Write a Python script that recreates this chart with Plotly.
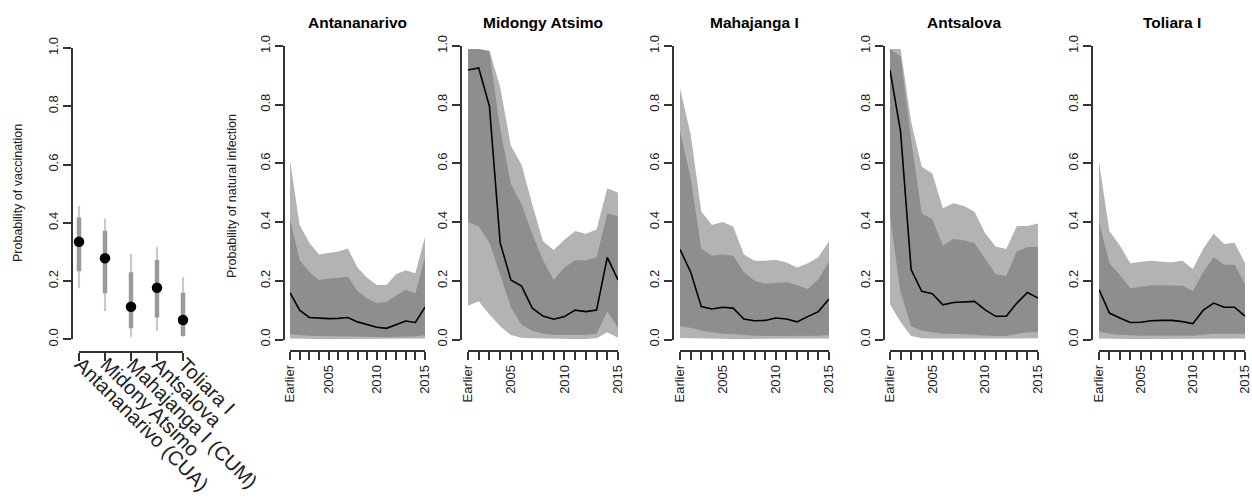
import plotly.graph_objects as go

# ---------------- data ----------------
vacc_districts = ["Antananarivo (CUA)", "Midony Atsimo", "Mahajanga I (CUM)", "Antsalova", "Toliara I"]
vacc_mean = [0.335, 0.278, 0.112, 0.177, 0.066]
vacc_lo95 = [0.175, 0.097, 0.009, 0.028, 0.009]
vacc_hi95 = [0.458, 0.415, 0.293, 0.316, 0.213]
vacc_lo50 = [0.234, 0.158, 0.038, 0.075, 0.011]
vacc_hi50 = [0.418, 0.373, 0.230, 0.272, 0.160]

years = ["Earlier", "2002", "2003", "2004", "2005", "2006", "2007", "2008",
         "2009", "2010", "2011", "2012", "2013", "2014", "2015"]
year_labels = ["Earlier", "", "", "", "2005", "", "", "", "", "2010", "", "", "", "", "2015"]

panel_names = ["Antananarivo", "Midongy Atsimo", "Mahajanga I", "Antsalova", "Toliara I"]

antan_med = [0.160, 0.100, 0.075, 0.072, 0.071, 0.072, 0.075, 0.060, 0.050, 0.042, 0.038, 0.050, 0.063, 0.058, 0.110]
antan_u95 = [0.610, 0.390, 0.330, 0.290, 0.295, 0.300, 0.310, 0.245, 0.210, 0.186, 0.186, 0.222, 0.236, 0.226, 0.350]
antan_u50 = [0.410, 0.270, 0.230, 0.203, 0.207, 0.210, 0.214, 0.165, 0.140, 0.124, 0.128, 0.150, 0.169, 0.158, 0.280]
antan_l50 = [0.018, 0.015, 0.013, 0.012, 0.012, 0.012, 0.012, 0.010, 0.009, 0.008, 0.008, 0.009, 0.010, 0.010, 0.015]
antan_l95 = [0.003, 0.002, 0.002, 0.002, 0.002, 0.002, 0.002, 0.002, 0.002, 0.002, 0.002, 0.002, 0.002, 0.002, 0.003]

midon_med = [0.918, 0.925, 0.795, 0.330, 0.203, 0.182, 0.107, 0.080, 0.069, 0.078, 0.100, 0.095, 0.100, 0.280, 0.203]
midon_u95 = [0.990, 0.990, 0.985, 0.860, 0.660, 0.595, 0.460, 0.335, 0.305, 0.340, 0.370, 0.360, 0.375, 0.515, 0.500]
midon_u50 = [0.990, 0.990, 0.980, 0.720, 0.530, 0.460, 0.360, 0.270, 0.203, 0.245, 0.270, 0.270, 0.280, 0.430, 0.420]
midon_l50 = [0.400, 0.385, 0.330, 0.220, 0.110, 0.050, 0.030, 0.020, 0.015, 0.015, 0.015, 0.015, 0.020, 0.095, 0.040]
midon_l95 = [0.115, 0.130, 0.085, 0.045, 0.015, 0.006, 0.004, 0.003, 0.002, 0.002, 0.002, 0.002, 0.004, 0.025, 0.006]

mahaj_med = [0.307, 0.230, 0.112, 0.104, 0.110, 0.107, 0.070, 0.064, 0.065, 0.073, 0.070, 0.060, 0.078, 0.095, 0.138]
mahaj_u95 = [0.856, 0.700, 0.436, 0.390, 0.400, 0.385, 0.290, 0.268, 0.268, 0.272, 0.262, 0.245, 0.260, 0.280, 0.335]
mahaj_u50 = [0.710, 0.550, 0.310, 0.285, 0.290, 0.285, 0.230, 0.200, 0.190, 0.192, 0.195, 0.185, 0.172, 0.205, 0.265]
mahaj_l50 = [0.045, 0.040, 0.030, 0.025, 0.020, 0.018, 0.015, 0.013, 0.012, 0.012, 0.012, 0.012, 0.012, 0.013, 0.015]
mahaj_l95 = [0.005, 0.004, 0.003, 0.003, 0.002, 0.002, 0.002, 0.002, 0.002, 0.002, 0.002, 0.002, 0.002, 0.002, 0.003]

antsa_med = [0.918, 0.708, 0.238, 0.164, 0.156, 0.118, 0.126, 0.128, 0.130, 0.101, 0.079, 0.079, 0.124, 0.160, 0.141]
antsa_u95 = [0.990, 0.990, 0.742, 0.589, 0.566, 0.447, 0.464, 0.455, 0.435, 0.362, 0.317, 0.308, 0.387, 0.387, 0.395]
antsa_u50 = [0.990, 0.965, 0.680, 0.430, 0.410, 0.320, 0.342, 0.338, 0.328, 0.275, 0.222, 0.216, 0.300, 0.315, 0.315]
antsa_l50 = [0.420, 0.160, 0.045, 0.030, 0.025, 0.020, 0.020, 0.018, 0.016, 0.013, 0.012, 0.012, 0.018, 0.025, 0.025]
antsa_l95 = [0.120, 0.060, 0.012, 0.004, 0.003, 0.003, 0.003, 0.002, 0.002, 0.002, 0.002, 0.002, 0.003, 0.004, 0.004]

tolia_med = [0.170, 0.090, 0.073, 0.058, 0.059, 0.064, 0.065, 0.065, 0.061, 0.054, 0.100, 0.124, 0.110, 0.110, 0.080]
tolia_u95 = [0.605, 0.370, 0.320, 0.260, 0.265, 0.268, 0.265, 0.263, 0.268, 0.240, 0.310, 0.360, 0.325, 0.330, 0.260]
tolia_u50 = [0.400, 0.260, 0.220, 0.175, 0.180, 0.185, 0.185, 0.183, 0.183, 0.165, 0.230, 0.280, 0.255, 0.255, 0.190]
tolia_l50 = [0.027, 0.020, 0.016, 0.014, 0.013, 0.013, 0.013, 0.013, 0.013, 0.013, 0.016, 0.020, 0.020, 0.020, 0.020]
tolia_l95 = [0.003, 0.002, 0.002, 0.002, 0.002, 0.002, 0.002, 0.002, 0.002, 0.002, 0.002, 0.002, 0.002, 0.002, 0.003]

panels = [
    (antan_med, antan_u95, antan_u50, antan_l50, antan_l95),
    (midon_med, midon_u95, midon_u50, midon_l50, midon_l95),
    (mahaj_med, mahaj_u95, mahaj_u50, mahaj_l50, mahaj_l95),
    (antsa_med, antsa_u95, antsa_u50, antsa_l50, antsa_l95),
    (tolia_med, tolia_u95, tolia_u50, tolia_l50, tolia_l95),
]

# ---------------- layout geometry (pixels) ----------------
W, H = 1252, 502
def px(x):
    return x / W
def py(y):
    return 1 - y / H

FONT = "Liberation Sans, Arial, Helvetica, sans-serif"
AX_COL = "#333333"
LIGHT = "#b3b3b3"
DARK = "#8e8e8e"

panel_x0 = [290, 468, 680, 890, 1099]
panel_x1 = [425, 618, 829, 1038, 1245]
panel_axis = [284, 461, 673, 884, 1092]
p_y0, p_y1 = 339.5, 46.0
p_xaxis_y = 351

v_c0, v_c1 = 79, 183
v_step = (v_c1 - v_c0) / 4
v_pad = 0.25
v_y0, v_y1 = 339.3, 48.0
v_axis_x = 72
v_xaxis_y = 352

fig = go.Figure()

# ---- vaccination panel ----
for d, a, b in zip(vacc_districts, vacc_lo95, vacc_hi95):
    fig.add_trace(go.Scatter(x=[d, d], y=[a, b], mode="lines",
                             line=dict(color="#c9c9c9", width=2.2),
                             xaxis="x", yaxis="y", hoverinfo="skip", showlegend=False))
for d, a, b in zip(vacc_districts, vacc_lo50, vacc_hi50):
    fig.add_trace(go.Scatter(x=[d, d], y=[a, b], mode="lines",
                             line=dict(color="#9a9a9a", width=4.5),
                             xaxis="x", yaxis="y", hoverinfo="skip", showlegend=False))
fig.add_trace(go.Scatter(x=vacc_districts, y=vacc_mean, mode="markers",
                         marker=dict(color="black", size=10.5), cliponaxis=False,
                         xaxis="x7", yaxis="y", showlegend=False))

axis_common = dict(showgrid=False, zeroline=False, showline=True, linecolor=AX_COL,
                   linewidth=1.5, ticks="outside", tickcolor=AX_COL, tickwidth=1.5,
                   ticklen=8, automargin=False,
                   tickfont=dict(family=FONT, size=13, color="#222"))

layout = dict(
    width=W, height=H, margin=dict(l=0, r=0, t=0, b=0, autoexpand=False),
    paper_bgcolor="white", plot_bgcolor="rgba(0,0,0,0)", showlegend=False,
    font=dict(family=FONT, color="#222"),
)

layout["xaxis"] = dict(domain=[px(v_c0 - v_pad * v_step), px(v_c1 + v_pad * v_step)],
                       type="category", categoryorder="array", categoryarray=vacc_districts,
                       range=[-v_pad, 4 + v_pad], showgrid=False, zeroline=False,
                       showline=False, showticklabels=False, ticks="", anchor="y",
                       automargin=False)
layout["xaxis7"] = dict(axis_common, domain=[px(v_c0), px(v_c1)], type="category",
                        categoryorder="array", categoryarray=vacc_districts,
                        range=[0, 4], anchor="free", position=py(v_xaxis_y),
                        showticklabels=False)
layout["yaxis"] = dict(axis_common, domain=[py(v_y0), py(v_y1)], range=[0, 1],
                       tickvals=[0, 0.2, 0.4, 0.6, 0.8, 1.0], tickformat=".1f",
                       tickangle=-90, anchor="free", position=px(v_axis_x))

# ---- natural infection panels ----
for i, (med, u95, u50, l50, l95) in enumerate(panels):
    k = i + 2
    xa, ya = f"x{k}", f"y{k}"
    fig.add_trace(go.Scatter(x=years, y=l95, mode="lines", line=dict(width=0, color=LIGHT),
                             xaxis=xa, yaxis=ya, hoverinfo="skip", showlegend=False))
    fig.add_trace(go.Scatter(x=years, y=u95, mode="lines", line=dict(width=0, color=LIGHT),
                             fill="tonexty", fillcolor=LIGHT,
                             xaxis=xa, yaxis=ya, hoverinfo="skip", showlegend=False))
    fig.add_trace(go.Scatter(x=years, y=l50, mode="lines", line=dict(width=0, color=DARK),
                             xaxis=xa, yaxis=ya, hoverinfo="skip", showlegend=False))
    fig.add_trace(go.Scatter(x=years, y=u50, mode="lines", line=dict(width=0, color=DARK),
                             fill="tonexty", fillcolor=DARK,
                             xaxis=xa, yaxis=ya, hoverinfo="skip", showlegend=False))
    fig.add_trace(go.Scatter(x=years, y=med, mode="lines", line=dict(width=1.6, color="black"),
                             xaxis=xa, yaxis=ya, showlegend=False))

    layout[f"xaxis{k}"] = dict(axis_common, domain=[px(panel_x0[i]), px(panel_x1[i])],
                               type="category", categoryorder="array", categoryarray=years,
                               range=[0, len(years) - 1], tickmode="array",
                               tickvals=years, ticktext=year_labels, tickangle=-90,
                               anchor="free", position=py(p_xaxis_y))
    layout[f"yaxis{k}"] = dict(axis_common, domain=[py(p_y0), py(p_y1)], range=[0, 1],
                               tickvals=[0, 0.2, 0.4, 0.6, 0.8, 1.0], tickformat=".1f",
                               tickangle=-90, anchor="free", position=px(panel_axis[i]))

annotations = []
# rotated district labels of the vaccination panel
for d in vacc_districts:
    annotations.append(dict(text=d, x=d, xref="x7", y=py(352), yref="paper",
                            showarrow=False, textangle=45, xanchor="left", yanchor="top",
                            xshift=-10, borderpad=0,
                            font=dict(family=FONT, size=20, color="#222")))
for i, name in enumerate(panel_names):
    annotations.append(dict(text=f"<b>{name}</b>", x=px((panel_x0[i] + panel_x1[i]) / 2),
                            y=py(23), xref="paper", yref="paper", showarrow=False,
                            xanchor="center", yanchor="middle",
                            font=dict(family=FONT, size=15.5, color="black")))
annotations.append(dict(text="Probability of vaccination", x=px(18), y=py(193),
                        xref="paper", yref="paper", showarrow=False, textangle=-90,
                        xanchor="center", yanchor="middle",
                        font=dict(family=FONT, size=12.5, color="#222")))
annotations.append(dict(text="Probability of natural infection", x=px(232), y=py(196),
                        xref="paper", yref="paper", showarrow=False, textangle=-90,
                        xanchor="center", yanchor="middle",
                        font=dict(family=FONT, size=12.5, color="#222")))
layout["annotations"] = annotations

fig.update_layout(**layout)
fig.write_html("out.html", config={"displayModeBar": False},
               post_script="document.body.style.margin='0px';")
